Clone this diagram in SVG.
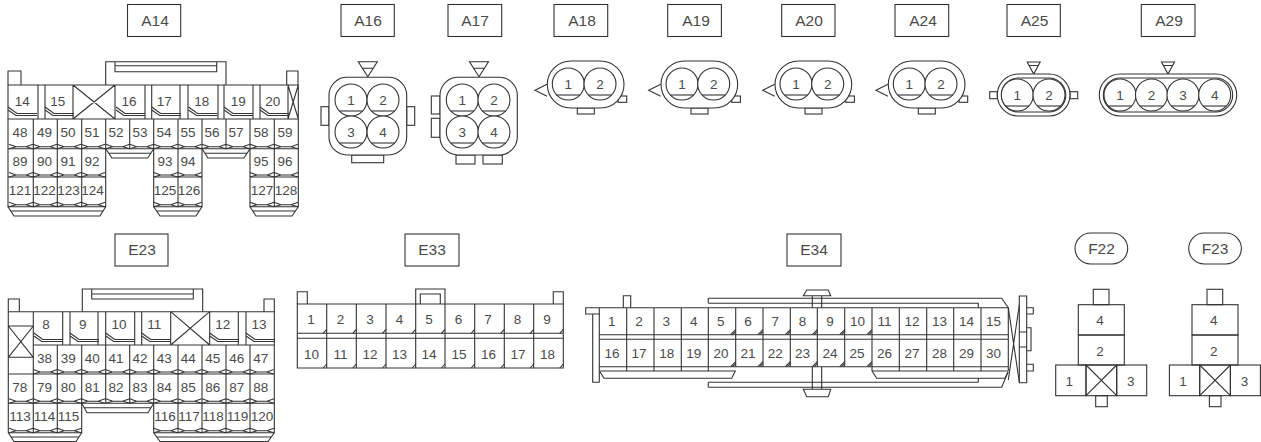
<svg xmlns="http://www.w3.org/2000/svg" width="1261" height="442" viewBox="0 0 1261 442">
<style>
path,rect,circle{fill:none;stroke:#333;stroke-width:1.1}
.w{fill:#fff}
text{font-family:"Liberation Sans",Arial,sans-serif;fill:#4a4a4a;text-anchor:middle;font-size:13.500px}
.h{font-size:15.500px}
</style>
<defs>
<path id="z" d="M0-4.500L7-2H17L24-4.500M0 0L7-2M17-2L24 0"/>
<g id="z2"><use href="#z"/><use href="#z" x="24"/></g>
<g id="z4"><use href="#z2"/><use href="#z2" x="48"/></g>
<path id="n" d="M0-12L9-5.500H29M0-9L8-3.500H29"/>
<path id="e" d="M-3.500 0L0-4"/>
<path id="d" d="M-5 0L0-5M-3-0L0-3"/>
<g id="c"><circle r="16" class="w"/><path d="M-11.600 11H11.600"/></g>
<path id="tri" d="M-9.500 0H9.500L0 15ZM-5.500 6.500H5.500"/>
<path id="trs" d="M-6.500 0H6.500L0 12ZM-4.500 3.500H4.500"/>
<g id="a18">
<path d="M12 23.300L0 29.300L12 35.300"/>
<rect x="42.300" y="47" width="17" height="6"/>
<rect x="83" y="35" width="8.700" height="6.300"/>
<rect x="12.300" width="76.700" height="47" rx="23.500" class="w"/>
<use href="#c" x="33.300" y="23"/><use href="#c" x="65" y="23"/>
<text x="33.300" y="28">1</text><text x="65" y="28">2</text>
</g>
<g id="f">
<rect x="37.600" y="0" width="15.700" height="15.400"/>
<rect x="22.600" y="15.400" width="46" height="30.300"/>
<rect x="22.600" y="45.700" width="46" height="30"/>
<rect x="0" y="75.700" width="30.300" height="30.700"/>
<rect x="30.300" y="75.700" width="30.700" height="30.700"/>
<rect x="61" y="75.700" width="30" height="30.700"/>
<path d="M30.300 75.700L61 106.400M61 75.700L30.300 106.400"/>
<rect x="40" y="106.400" width="11.600" height="11"/>
<text x="44.300" y="35.400">4</text><text x="44.300" y="67.100">2</text><text x="13.600" y="96.400">1</text><text x="75" y="96.400">3</text>
</g>
</defs>

<g id="A14">
<rect x="127.500" y="4.500" width="53.200" height="32"/><text class="h" x="155" y="26">A14</text>
<path d="M8 85V71H21V85M286.700 85V71H298V85M105.700 85V61.700H226V85M115 61.700V71.700H216.700V61.700M115 65.700H216.700"/>
<path d="M8 85H298.300V119H8ZM38 85V119M45 85V119M73 85V119M115 85V119M145 85V119M151.700 85V119M180 85V119M188 85V119M218 85V119M224 85V119M253 85V119M260 85V119M288 85V119M73 85L115 119M115 85L73 119M288 85L298.300 119M298.300 85L288 119"/>
<use href="#n" x="8" y="119"/><use href="#n" x="45" y="119"/><use href="#n" x="116" y="119"/><use href="#n" x="151.700" y="119"/><use href="#n" x="188.500" y="119"/><use href="#n" x="224" y="119"/><use href="#n" x="260" y="119"/>
<path d="M8 119V206.700H105.700V148.700M33.300 119V206.700M57.300 119V206.700M81.700 119V206.700M105.700 119V148.700M129.700 119V148.700M153.700 119V206.700H202V119M178 119V206.700M226 119V148.700M250 119V206.700H298.300V119M274.300 119V206.700M8 148.700H298.300M8 177H105.700M153.700 177H202M250 177H298.300"/>
<use href="#z4" x="9" y="148.700"/><use href="#z4" x="105.700" y="148.700"/><use href="#z4" x="202" y="148.700"/>
<use href="#z4" x="9" y="177"/><use href="#z2" x="153.700" y="177"/><use href="#z2" x="250" y="177"/>
<use href="#z4" x="9" y="206.700"/><use href="#z2" x="153.700" y="206.700"/><use href="#z2" x="250" y="206.700"/>
<path d="M105.700 148.700L112 158H147.700L153.700 148.700M109 153.300H151M202 148.700L208 158H244L250 148.700M205 153.300H247"/>
<path d="M8 206.700L14 216H100L105.700 206.700M11 211H103M153.700 206.700L160 216H196L202 206.700M157 211H199M250 206.700L256 216H292L298.300 206.700M253 211H295"/>
<text x="22.300" y="106.400">14</text><text x="57.700" y="106.400">15</text><text x="129" y="106.400">16</text><text x="164.300" y="106.400">17</text><text x="201.700" y="106.400">18</text><text x="238.300" y="106.400">19</text><text x="272.700" y="106.400">20</text>
<text x="20" y="137.300">48</text><text x="44.500" y="137.300">49</text><text x="68" y="137.300">50</text><text x="92" y="137.300">51</text><text x="116" y="137.300">52</text><text x="140" y="137.300">53</text><text x="164" y="137.300">54</text><text x="188" y="137.300">55</text><text x="212" y="137.300">56</text><text x="236" y="137.300">57</text><text x="261" y="137.300">58</text><text x="285" y="137.300">59</text>
<text x="20" y="166.400">89</text><text x="44.500" y="166.400">90</text><text x="68" y="166.400">91</text><text x="92" y="166.400">92</text><text x="165" y="166.400">93</text><text x="188" y="166.400">94</text><text x="261" y="166.400">95</text><text x="285" y="166.400">96</text>
<text x="20" y="195.400">121</text><text x="44.500" y="195.400">122</text><text x="68.500" y="195.400">123</text><text x="92.500" y="195.400">124</text><text x="165" y="195.400">125</text><text x="189" y="195.400">126</text><text x="262" y="195.400">127</text><text x="286" y="195.400">128</text>
</g>

<g id="A16">
<rect x="341" y="4.500" width="53.300" height="32"/><text class="h" x="368" y="26">A16</text>
<use href="#tri" x="367.800" y="61.700"/>
<rect x="321" y="106.700" width="8" height="18.600"/><rect x="406.700" y="106.700" width="8" height="18.600"/><rect x="351.700" y="155" width="32" height="7.700"/>
<rect x="329" y="77.300" width="77.700" height="77.700" rx="18" class="w"/>
<use href="#c" x="351" y="100"/><use href="#c" x="383" y="100"/><use href="#c" x="351" y="132"/><use href="#c" x="383" y="132"/>
<text x="351" y="105">1</text><text x="383" y="105">2</text><text x="351" y="137">3</text><text x="383" y="137">4</text>
</g>

<g id="A17">
<rect x="448" y="4.500" width="53.700" height="32"/><text class="h" x="475" y="26">A17</text>
<use href="#tri" x="479" y="61.700"/>
<rect x="431.300" y="96" width="8.700" height="18"/><rect x="431.300" y="118.300" width="8.700" height="19"/><rect x="456" y="155" width="19" height="9"/><rect x="483" y="155" width="19.300" height="9"/>
<rect x="440" y="77.300" width="77.300" height="77.700" rx="18" class="w"/>
<use href="#c" x="462.300" y="100"/><use href="#c" x="494" y="100"/><use href="#c" x="462.300" y="132"/><use href="#c" x="494" y="132"/>
<text x="462.300" y="105">1</text><text x="494" y="105">2</text><text x="462.300" y="137">3</text><text x="494" y="137">4</text>
</g>

<g id="A18"><rect x="554" y="4.500" width="53.700" height="32"/><text class="h" x="582" y="26">A18</text><use href="#a18" x="535" y="61"/></g>
<g id="A19"><rect x="667.700" y="4.500" width="53.700" height="32"/><text class="h" x="696" y="26">A19</text><use href="#a18" x="648.700" y="61"/></g>
<g id="A20"><rect x="781.700" y="4.500" width="53.300" height="32"/><text class="h" x="809" y="26">A20</text><use href="#a18" x="762.700" y="61"/></g>
<g id="A24"><rect x="895" y="4.500" width="53.700" height="32"/><text class="h" x="923" y="26">A24</text><use href="#a18" x="876" y="61"/></g>

<g id="A25">
<rect x="1007" y="4.500" width="53.300" height="32"/><text class="h" x="1034.500" y="26">A25</text>
<use href="#trs" x="1033.700" y="62"/>
<rect x="989.700" y="91.700" width="7.600" height="7"/><rect x="1070" y="91.700" width="7.700" height="7"/>
<rect x="997.300" y="74" width="72.700" height="42" rx="21" class="w"/>
<rect x="1001.500" y="78" width="64.300" height="34" rx="17"/>
<use href="#c" x="1017.300" y="95"/><use href="#c" x="1049" y="95"/>
<text x="1017.300" y="100">1</text><text x="1049" y="100">2</text>
</g>

<g id="A29">
<rect x="1141.300" y="4.500" width="53.700" height="32"/><text class="h" x="1169" y="26">A29</text>
<use href="#trs" x="1168" y="62"/>
<rect x="1099.300" y="74" width="137.400" height="42" rx="21" class="w"/>
<rect x="1103.300" y="78" width="129.400" height="34" rx="17"/>
<use href="#c" x="1120" y="95"/><use href="#c" x="1151.500" y="95"/><use href="#c" x="1183" y="95"/><use href="#c" x="1214.700" y="95"/>
<text x="1120" y="100">1</text><text x="1151.500" y="100">2</text><text x="1183" y="100">3</text><text x="1214.700" y="100">4</text>
</g>

<g id="E23">
<rect x="115" y="234" width="53" height="32"/><text class="h" x="142" y="255">E23</text>
<path d="M8.300 311.700V299H19.300V311.700M264 311.700V299H274.300V311.700M82.300 311.700V289H202.700V311.700M91.700 289V299H193.300V289M91.700 294H193.300"/>
<path d="M8.300 311.700H274.300V345M8.300 311.700V432.700M8.300 326H33.300M8.300 357.300H33.300M8.300 326L33.300 357.300M33.300 326L8.300 357.300"/>
<path d="M33.300 311.700V345M62.700 311.700V345M70 311.700V345M98 311.700V345M105.700 311.700V345M134.700 311.700V345M141.700 311.700V345M170.700 311.700V345M209.700 311.700V345M238.300 311.700V345M246 311.700V345M170.700 311.700L209.700 345M209.700 311.700L170.700 345M33.300 345H274.300"/>
<use href="#n" x="33.800" y="345"/><use href="#n" x="70" y="345"/><use href="#n" x="105.700" y="345"/><use href="#n" x="141.700" y="345"/><use href="#n" x="209.700" y="345"/><use href="#n" x="246" y="345"/>
<path d="M33.300 345V432.700M57.300 345V432.700M81.700 345V432.700H8.300M105.700 345V403.300M129.700 345V403.300M153.700 345V432.700M178 345V432.700M202 345V432.700M226 345V432.700M250 345V432.700M274.300 345V432.700H153.700M8.300 374H274.300M8.300 403.300H274.300"/>
<use href="#z4" x="33.300" y="374"/><use href="#z4" x="129.700" y="374"/><use href="#z2" x="225.700" y="374"/>
<use href="#z4" x="9" y="403.300"/><use href="#z4" x="105.700" y="403.300"/><use href="#z2" x="202" y="403.300"/><use href="#z" x="250" y="403.300"/>
<use href="#z2" x="9" y="432.700"/><use href="#z" x="57.300" y="432.700"/><use href="#z4" x="153.700" y="432.700"/><use href="#z" x="250" y="432.700"/>
<path d="M81.700 403.300L87 412.700H148L153.700 403.300M84.500 407.800H151"/>
<path d="M8.300 432.700L14 441.500H76L81.700 432.700M11 437H79M153.700 432.700L160 441.500H268L274.300 432.700M157 437H271"/>
<text x="46" y="328.700">8</text><text x="82.700" y="328.700">9</text><text x="119" y="328.700">10</text><text x="154.300" y="328.700">11</text><text x="222.700" y="328.700">12</text><text x="259" y="328.700">13</text>
<text x="44.500" y="363">38</text><text x="68.300" y="363">39</text><text x="92.300" y="363">40</text><text x="116" y="363">41</text><text x="140" y="363">42</text><text x="164.300" y="363">43</text><text x="188.300" y="363">44</text><text x="212.700" y="363">45</text><text x="236.700" y="363">46</text><text x="260.700" y="363">47</text>
<text x="19.700" y="392">78</text><text x="44.500" y="392">79</text><text x="68.300" y="392">80</text><text x="92.300" y="392">81</text><text x="116" y="392">82</text><text x="140" y="392">83</text><text x="164.300" y="392">84</text><text x="188.300" y="392">85</text><text x="212.700" y="392">86</text><text x="236.700" y="392">87</text><text x="260.700" y="392">88</text>
<text x="20" y="420.700">113</text><text x="44.500" y="420.700">114</text><text x="68.500" y="420.700">115</text><text x="165" y="420.700">116</text><text x="189" y="420.700">117</text><text x="213" y="420.700">118</text><text x="237.500" y="420.700">119</text><text x="262" y="420.700">120</text>
</g>

<g id="E33">
<rect x="405" y="234" width="54" height="32"/><text class="h" x="432" y="255">E33</text>
<path d="M297.300 304V291.700H307.300V304M553.300 304V291.700H563.300V304M415.700 304V289H445V304M420.300 304V294H440.300V304"/>
<path d="M297.300 304H563.300V368H297.300ZM326.700 304V368M356.300 304V368M386 304V368M415.700 304V368M445 304V368M474.700 304V368M504.300 304V368M533.700 304V368M297.300 333.300H563.300M297.300 338.300H563.300"/>
<use href="#e" x="326.700" y="333.300"/><use href="#e" x="356.300" y="333.300"/><use href="#e" x="386" y="333.300"/><use href="#e" x="415.700" y="333.300"/><use href="#e" x="445" y="333.300"/><use href="#e" x="474.700" y="333.300"/><use href="#e" x="504.300" y="333.300"/><use href="#e" x="533.700" y="333.300"/><use href="#e" x="563.300" y="333.300"/>
<use href="#e" x="326.700" y="368"/><use href="#e" x="356.300" y="368"/><use href="#e" x="386" y="368"/><use href="#e" x="415.700" y="368"/><use href="#e" x="445" y="368"/><use href="#e" x="474.700" y="368"/><use href="#e" x="504.300" y="368"/><use href="#e" x="533.700" y="368"/><use href="#e" x="563.300" y="368"/>
<text x="311" y="324">1</text><text x="340.500" y="324">2</text><text x="370" y="324">3</text><text x="399.500" y="324">4</text><text x="429" y="324">5</text><text x="458.500" y="324">6</text><text x="488" y="324">7</text><text x="517.500" y="324">8</text><text x="547" y="324">9</text>
<text x="311.500" y="358.700">10</text><text x="340.500" y="358.700">11</text><text x="370" y="358.700">12</text><text x="399.500" y="358.700">13</text><text x="429" y="358.700">14</text><text x="459" y="358.700">15</text><text x="488.500" y="358.700">16</text><text x="518" y="358.700">17</text><text x="547.500" y="358.700">18</text>
</g>

<g id="E34">
<rect x="787" y="234" width="54" height="32"/><text class="h" x="814" y="255">E34</text>
<path d="M599.300 314H585.700V307.700H599.300M592.700 314V382.300H599.300M623.300 307.700V295.700H630.700V307.700"/>
<path d="M599.300 307.700H1008.300V371M599.300 307.700V382.300M599.300 334.700H1008.300M599.300 339.300H1008.300M599.300 366.700H1008.300M626.700 307.700V371M654 307.700V371M681.300 307.700V371M708.300 307.700V371M735.700 307.700V366.700M763 307.700V366.700M790.300 307.700V366.700M817.300 307.700V366.700M844.700 307.700V366.700M872 307.700V371M899.300 307.700V371M926.700 307.700V371M953.700 307.700V371M981 307.700V371"/>
<path d="M599.300 371H735.700M872 371H1008.300"/>
<path d="M600 371.700L604 378.300H731.700L735.300 371"/>
<path d="M872 371L876.700 378.300H978.300V382.300M1008 372L1005 378.300H978.300"/>
<path d="M708.300 298.300V303.300M708.300 298.300H1001.700L1008.300 307.700M708.300 303.300H978.300V307.700M708.300 382.300V387.300M708.300 382.300H978.300M708.300 387.300H1001.700L1008 372"/>
<path d="M803.300 295.700L806.700 290H828.300L830.700 295.700ZM812.300 295.700V307.700M821.700 295.700V307.700M803.300 389.300L806.700 396.700H828.300L830.700 389.300ZM812.300 366.700V389.300M821.700 366.700V389.300"/>
<use href="#d" x="735.700" y="334.700"/><use href="#d" x="763" y="334.700"/><use href="#d" x="790.300" y="334.700"/><use href="#d" x="817.300" y="334.700"/><use href="#d" x="844.700" y="334.700"/><use href="#d" x="872" y="334.700"/>
<use href="#d" x="735.700" y="366.700"/><use href="#d" x="763" y="366.700"/><use href="#d" x="790.300" y="366.700"/><use href="#d" x="817.300" y="366.700"/><use href="#d" x="844.700" y="366.700"/><use href="#d" x="872" y="366.700"/>
<path d="M1008.300 307.700L1019.300 382M1019.300 305L1008.300 380"/>
<path d="M1019.300 296H1026.700V382.700H1019.300ZM1026.700 307.700H1033.300V314H1026.700M1026.700 364.300H1033.300V371H1026.700M1026.700 327.700H1031V350.700H1026.700M1019.300 332H1026.700M1019.300 347H1026.700"/>
<text x="611.700" y="325.600">1</text><text x="639" y="325.600">2</text><text x="666.300" y="325.600">3</text><text x="693.700" y="325.600">4</text><text x="720.700" y="325.600">5</text><text x="748" y="325.600">6</text><text x="775.300" y="325.600">7</text><text x="802.500" y="325.600">8</text><text x="830" y="325.600">9</text><text x="857.500" y="325.600">10</text><text x="884.500" y="325.600">11</text><text x="912" y="325.600">12</text><text x="939.500" y="325.600">13</text><text x="966.500" y="325.600">14</text><text x="993.500" y="325.600">15</text>
<text x="612" y="358">16</text><text x="639" y="358">17</text><text x="666.700" y="358">18</text><text x="693.700" y="358">19</text><text x="721" y="358">20</text><text x="748" y="358">21</text><text x="775.300" y="358">22</text><text x="802.500" y="358">23</text><text x="830" y="358">24</text><text x="857" y="358">25</text><text x="884.500" y="358">26</text><text x="912" y="358">27</text><text x="939.500" y="358">28</text><text x="966.500" y="358">29</text><text x="993.500" y="358">30</text>
</g>

<g id="F22">
<rect x="1075" y="233" width="52.700" height="31" rx="15.500"/><text class="h" x="1101.500" y="253.500">F22</text>
<use href="#f" x="1055.700" y="289.300"/>
</g>
<g id="F23">
<rect x="1188.700" y="233" width="52.700" height="31" rx="15.500"/><text class="h" x="1215" y="253.500">F23</text>
<use href="#f" x="1169.400" y="289.300"/>
</g>
</svg>
